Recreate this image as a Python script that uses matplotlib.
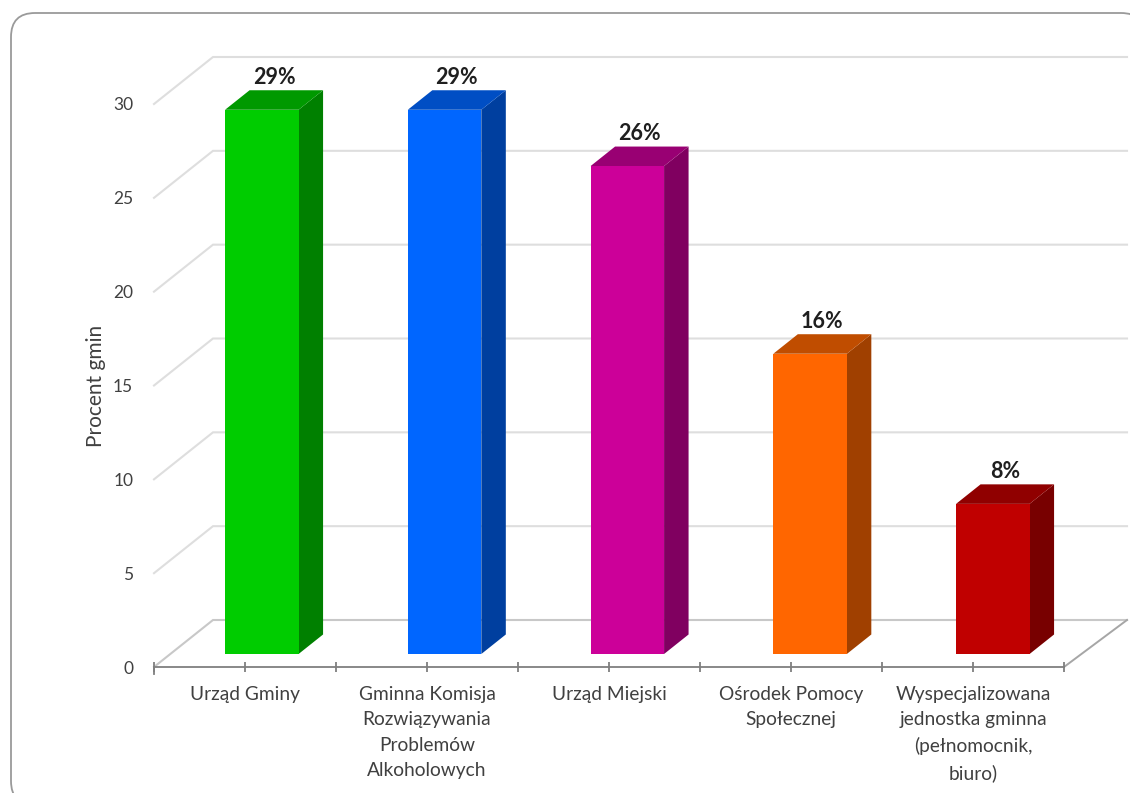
import matplotlib
matplotlib.use("Agg")
import matplotlib.pyplot as plt
from matplotlib.patches import Polygon, FancyBboxPatch

plt.rcParams['font.family'] = ['Lato', 'DejaVu Sans']

categories = ["Urząd Gminy",
              "Gminna Komisja\nRozwiązywania\nProblemów\nAlkoholowych",
              "Urząd Miejski",
              "Ośrodek Pomocy\nSpołecznej",
              "Wyspecjalizowana\njednostka gminna\n(pełnomocnik,\nbiuro)"]
values = [29, 29, 26, 16, 8]
value_labels = ["29%", "29%", "26%", "16%", "8%"]
front_colors = ["#00cc00", "#0066ff", "#cc0099", "#ff6600", "#c00000"]
top_colors = ["#009900", "#004ec4", "#990073", "#c04d00", "#900000"]
side_colors = ["#008000", "#003f9f", "#800060", "#a04000", "#780000"]
yticks = [0, 5, 10, 15, 20, 25, 30]

W, H = 1130, 793
fig = plt.figure(figsize=(W / 100, H / 100), dpi=100)

# rounded chart frame
frame_ax = fig.add_axes([0, 0, 1, 1])
frame_ax.set_xlim(0, W); frame_ax.set_ylim(H, 0); frame_ax.axis("off")
frame_ax.add_patch(FancyBboxPatch((11, 13), 1134, 792,
                                  boxstyle="round,pad=0,rounding_size=24",
                                  fc="white", ec="#9a9a9a", lw=1.3, clip_on=True))

# main axes = front plane of the 3D box
L, R, B, T = 154, 1064, 667, 104
ax = fig.add_axes([L / W, 1 - B / H, (R - L) / W, (B - T) / H])
ax.patch.set_alpha(0)
ax.set_xlim(0, 5)
ax.set_ylim(0, 30)
px_x = (R - L) / 5
px_y = (B - T) / 30

# depth helpers (pixels -> data)
DEPTH_X, DEPTH_Y = 59 / px_x, 47 / px_y
BACK_RIGHT = 5 + 4 / px_x


def P(x, y, d=0.0):
    return (x + d * DEPTH_X, y + d * DEPTH_Y)


GRID = "#dedede"
for v in yticks:
    color = "#c8c8c8" if v == 0 else GRID
    ax.plot(*zip(P(0, v), P(0, v, 1), P(BACK_RIGHT, v, 1)), color=color, lw=1.5,
            clip_on=False, zorder=1, solid_joinstyle="miter")
ax.plot(*zip(P(5, 0), P(BACK_RIGHT, 0, 1)), color="#a6a6a6", lw=1.4, clip_on=False, zorder=1)

bar_w = 73.5 / px_x
bar_d = 13 / 47
bar_depth = 24.5 / 59
bar_step = 182.75 / px_x
bar_first = (245.5 - L) / px_x
for i, (val, lab) in enumerate(zip(values, value_labels)):
    c = bar_first + i * bar_step
    x0, x1 = c - bar_w / 2, c + bar_w / 2
    d0, d1 = bar_d, bar_d + bar_depth
    ax.add_patch(Polygon([P(x1, 0, d0), P(x1, 0, d1), P(x1, val, d1), P(x1, val, d0)],
                         fc=side_colors[i], ec="none", clip_on=False, zorder=3))
    ax.add_patch(Polygon([P(x0, val, d0), P(x1, val, d0), P(x1, val, d1), P(x0, val, d1)],
                         fc=top_colors[i], ec="none", clip_on=False, zorder=3))
    ax.add_patch(Polygon([P(x0, 0, d0), P(x1, 0, d0), P(x1, val, d0), P(x0, val, d0)],
                         fc=front_colors[i], ec="none", clip_on=False, zorder=4))
    tx, _ = P(c, val, (d0 + d1) / 2)
    ty_top = P(c, val, d1)[1]
    ax.annotate(lab, (tx, ty_top), xytext=(0, 1.5), textcoords="offset points",
                ha="center", va="bottom", fontsize=15.5, fontweight="bold",
                color="#1f1f1f", annotation_clip=False, zorder=5)

for s in ("left", "top", "right"):
    ax.spines[s].set_visible(False)
ax.spines["bottom"].set_color("#7f7f7f")
ax.spines["bottom"].set_linewidth(1.3)

ax.set_yticks(yticks)
ax.tick_params(axis="y", length=0, pad=15, labelsize=12.5, labelcolor="#404040")
ax.set_xticks(range(6))
ax.set_xticklabels([])
ax.tick_params(axis="x", which="major", length=7, direction="inout", width=1.3, color="#7f7f7f")
ax.plot([0, 0], [0, -0.35], color="#7f7f7f", lw=1.3, clip_on=False)
ax.set_xticks([i + 0.5 for i in range(5)], minor=True)
ax.set_xticklabels(categories, minor=True, fontsize=13.8, color="#404040", linespacing=1.6)
ax.tick_params(axis="x", which="minor", length=7, direction="inout", width=1.3,
               color="#7f7f7f", pad=10)
ax.set_ylabel("Procent gmin", fontsize=15, color="#404040", labelpad=5)

fig.savefig("out.png", dpi=100)
